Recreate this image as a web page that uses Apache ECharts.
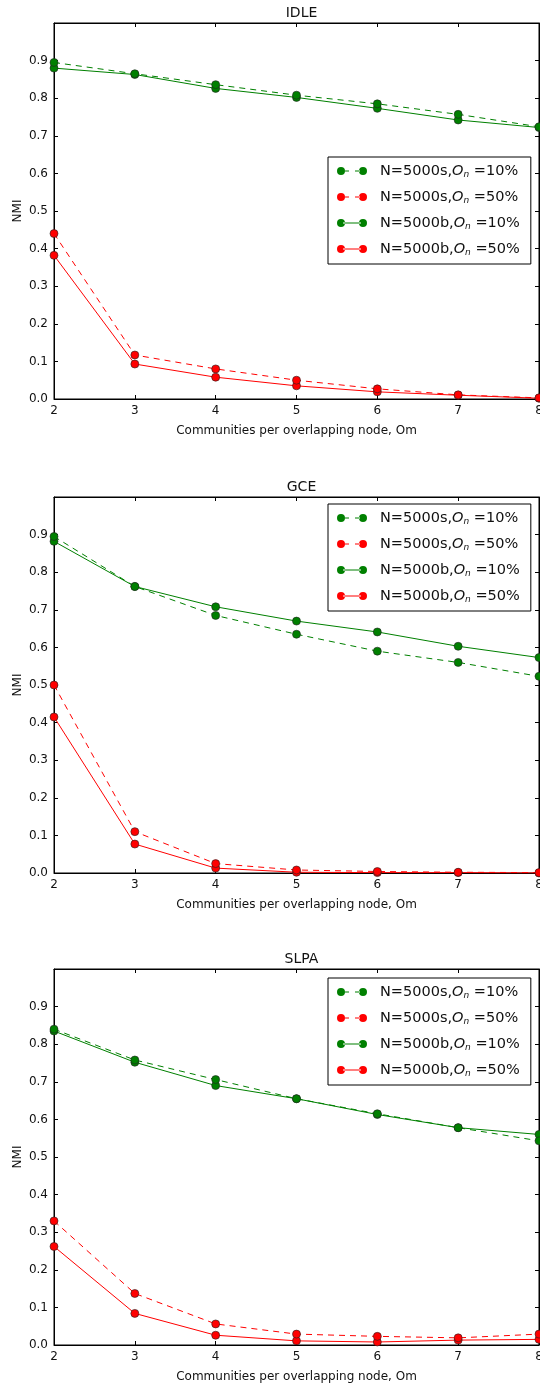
<!DOCTYPE html>
<html>
<head>
<meta charset="utf-8">
<script src="https://cdn.jsdelivr.net/npm/echarts@6/dist/echarts.min.js"></script>
<style>html,body{margin:0;padding:0;background:#fff;}#c{width:540px;height:1387px;}</style>
</head>
<body>
<div id="c"></div>
<script>
// ---- data ----
const xValues = [2, 3, 4, 5, 6, 7, 8];
const panelTitles = ['IDLE', 'GCE', 'SLPA'];
const seriesNames = ['N=5000s,On=10%', 'N=5000s,On=50%', 'N=5000b,On=10%', 'N=5000b,On=50%'];
const yTickLabels = ['0.0','0.1','0.2','0.3','0.4','0.5','0.6','0.7','0.8','0.9'];

// IDLE
const idleS10 = [0.895, 0.865, 0.836, 0.808, 0.785, 0.757, 0.724];
const idleS50 = [0.440, 0.117, 0.080, 0.050, 0.027, 0.011, 0.003];
const idleB10 = [0.880, 0.863, 0.826, 0.802, 0.773, 0.742, 0.722];
const idleB50 = [0.382, 0.093, 0.058, 0.035, 0.019, 0.010, 0.002];
// GCE
const gceS10 = [0.895, 0.762, 0.685, 0.635, 0.590, 0.560, 0.523];
const gceS50 = [0.500, 0.110, 0.025, 0.008, 0.004, 0.002, 0.001];
const gceB10 = [0.882, 0.762, 0.708, 0.670, 0.641, 0.603, 0.573];
const gceB50 = [0.415, 0.077, 0.013, 0.002, 0.001, 0.001, 0.000];
// SLPA
const slpaS10 = [0.840, 0.758, 0.706, 0.655, 0.615, 0.578, 0.543];
const slpaS50 = [0.330, 0.137, 0.056, 0.029, 0.023, 0.019, 0.029];
const slpaB10 = [0.835, 0.752, 0.690, 0.655, 0.613, 0.578, 0.560];
const slpaB50 = [0.262, 0.084, 0.026, 0.011, 0.008, 0.013, 0.015];

const panels = [
  [idleS10, idleS50, idleB10, idleB50],
  [gceS10, gceS50, gceB10, gceB50],
  [slpaS10, slpaS50, slpaB10, slpaB50]
];

// ---- styling / layout ----
const FONT = 'DejaVu Sans';
const TXT = '#111';
const GREEN = '#008000', RED = '#ff0000';
const colors = [GREEN, RED, GREEN, RED];
const dashed = [true, true, false, false];
const gridTops = [23, 497, 969];
const legendTops = [157, 504, 978];
const titleTops = [1, 475, 947];
const GRID_LEFT = 54, GRID_W = 485, GRID_H = 376;

// legend icons: two markers joined by a solid or dashed line
const iconSolid = 'path://M0,4 a4,4 0 1,0 8,0 a4,4 0 1,0 -8,0 Z M22,4 a4,4 0 1,0 8,0 a4,4 0 1,0 -8,0 Z M6,3.4 L24,3.4 L24,4.6 L6,4.6 Z';
const iconDashed = 'path://M0,4 a4,4 0 1,0 8,0 a4,4 0 1,0 -8,0 Z M22,4 a4,4 0 1,0 8,0 a4,4 0 1,0 -8,0 Z M8,3.4 L12,3.4 L12,4.6 L8,4.6 Z M18,3.4 L23,3.4 L23,4.6 L18,4.6 Z';

function legendLabel(name) {
  const m = name.match(/^(N=5000[sb],)On(=\d+%)$/);
  return '{a|' + m[1] + '}{o|O}{n|n}{a| ' + m[2] + '}';
}

const grid = [], xAxis = [], yAxis = [], series = [], legend = [], title = [];
for (let p = 0; p < 3; p++) {
  grid.push({left: GRID_LEFT, top: gridTops[p], width: GRID_W, height: GRID_H,
    outerBoundsMode: 'none', containLabel: false,
    show: true, borderColor: '#000', borderWidth: 1, backgroundColor: '#fff'});
  title.push({text: panelTitles[p], left: GRID_LEFT + GRID_W / 2, top: titleTops[p], textAlign: 'center',
    textStyle: {fontFamily: FONT, fontSize: 14, fontWeight: 'normal', color: TXT}});
}
for (let p = 0; p < 3; p++) {
  xAxis.push({type: 'value', gridIndex: p, min: 2, max: 8, interval: 1, position: 'bottom',
    name: 'Communities per overlapping node, Om', nameLocation: 'middle', nameGap: 26, nameMoveOverlap: false,
    nameTextStyle: {fontFamily: FONT, fontSize: 12, color: TXT},
    axisLine: {show: true, onZero: false, lineStyle: {color: '#000', width: 1}},
    axisTick: {show: true, inside: true, length: 4, lineStyle: {color: '#000'}},
    axisLabel: {fontFamily: FONT, fontSize: 12, color: TXT, margin: 6},
    splitLine: {show: false}});
}
for (let p = 0; p < 3; p++) {
  xAxis.push({type: 'value', gridIndex: p, min: 2, max: 8, interval: 1, position: 'top',
    axisLine: {show: true, onZero: false, lineStyle: {color: '#000', width: 1}},
    axisTick: {show: true, inside: true, length: 4, lineStyle: {color: '#000'}},
    axisLabel: {show: false}, splitLine: {show: false}});
}
for (let p = 0; p < 3; p++) {
  yAxis.push({type: 'value', gridIndex: p, min: 0, max: 1, interval: 0.1, position: 'left',
    name: 'NMI', nameLocation: 'middle', nameGap: 30, nameMoveOverlap: false,
    nameTextStyle: {fontFamily: FONT, fontSize: 12, color: TXT},
    axisLine: {show: true, onZero: false, lineStyle: {color: '#000', width: 1}},
    axisTick: {show: true, inside: true, length: 4, lineStyle: {color: '#000'}},
    axisLabel: {fontFamily: FONT, fontSize: 12, color: TXT, margin: 6,
      formatter: v => { const i = Math.round(v * 10); return i < yTickLabels.length ? yTickLabels[i] : ''; }},
    splitLine: {show: false}});
}
for (let p = 0; p < 3; p++) {
  yAxis.push({type: 'value', gridIndex: p, min: 0, max: 1, interval: 0.1, position: 'right',
    axisLine: {show: true, onZero: false, lineStyle: {color: '#000', width: 1}},
    axisTick: {show: true, inside: true, length: 4, lineStyle: {color: '#000'}},
    axisLabel: {show: false}, splitLine: {show: false}});
}
for (let p = 0; p < 3; p++) {
  for (let s = 0; s < 4; s++) {
    series.push({
      type: 'line', name: seriesNames[s], xAxisIndex: p, yAxisIndex: p,
      data: xValues.map((x, i) => [x, panels[p][s][i]]),
      symbol: 'circle', symbolSize: 8, showSymbol: true,
      lineStyle: {color: colors[s], width: 1, type: dashed[s] ? [6, 5] : 'solid'},
      itemStyle: {color: colors[s], borderColor: '#222', borderWidth: 0.6},
      animation: false, z: 2 + (3 - s)
    });
  }
  legend.push({
    orient: 'vertical', left: 328, top: legendTops[p],
    data: seriesNames.map((n, s) => ({name: n, icon: dashed[s] ? iconDashed : iconSolid,
      itemStyle: {color: colors[s], borderWidth: 0}})),
    itemWidth: 30, itemHeight: 8, itemGap: 10,
    padding: [6, 11, 7, 9],
    backgroundColor: '#fff', borderColor: '#000', borderWidth: 1,
    selectedMode: false,
    formatter: legendLabel,
    textStyle: {fontFamily: FONT, fontSize: 14.5, color: TXT, padding: [0, 0, 0, 8], lineHeight: 16,
      rich: {
        a: {fontFamily: FONT, fontSize: 14.5, color: TXT, lineHeight: 16},
        o: {fontFamily: FONT, fontSize: 14.5, fontStyle: 'italic', color: TXT, lineHeight: 16},
        n: {fontFamily: FONT, fontSize: 9, fontStyle: 'italic', color: TXT, verticalAlign: 'bottom', lineHeight: 16, padding: [6, 0, 0, 0]}
      }}
  });
}

const chart = echarts.init(document.getElementById('c'), null, {renderer: 'canvas'});
chart.setOption({animation: false, backgroundColor: '#fff', title, grid, xAxis, yAxis, legend, series});
</script>
</body>
</html>
